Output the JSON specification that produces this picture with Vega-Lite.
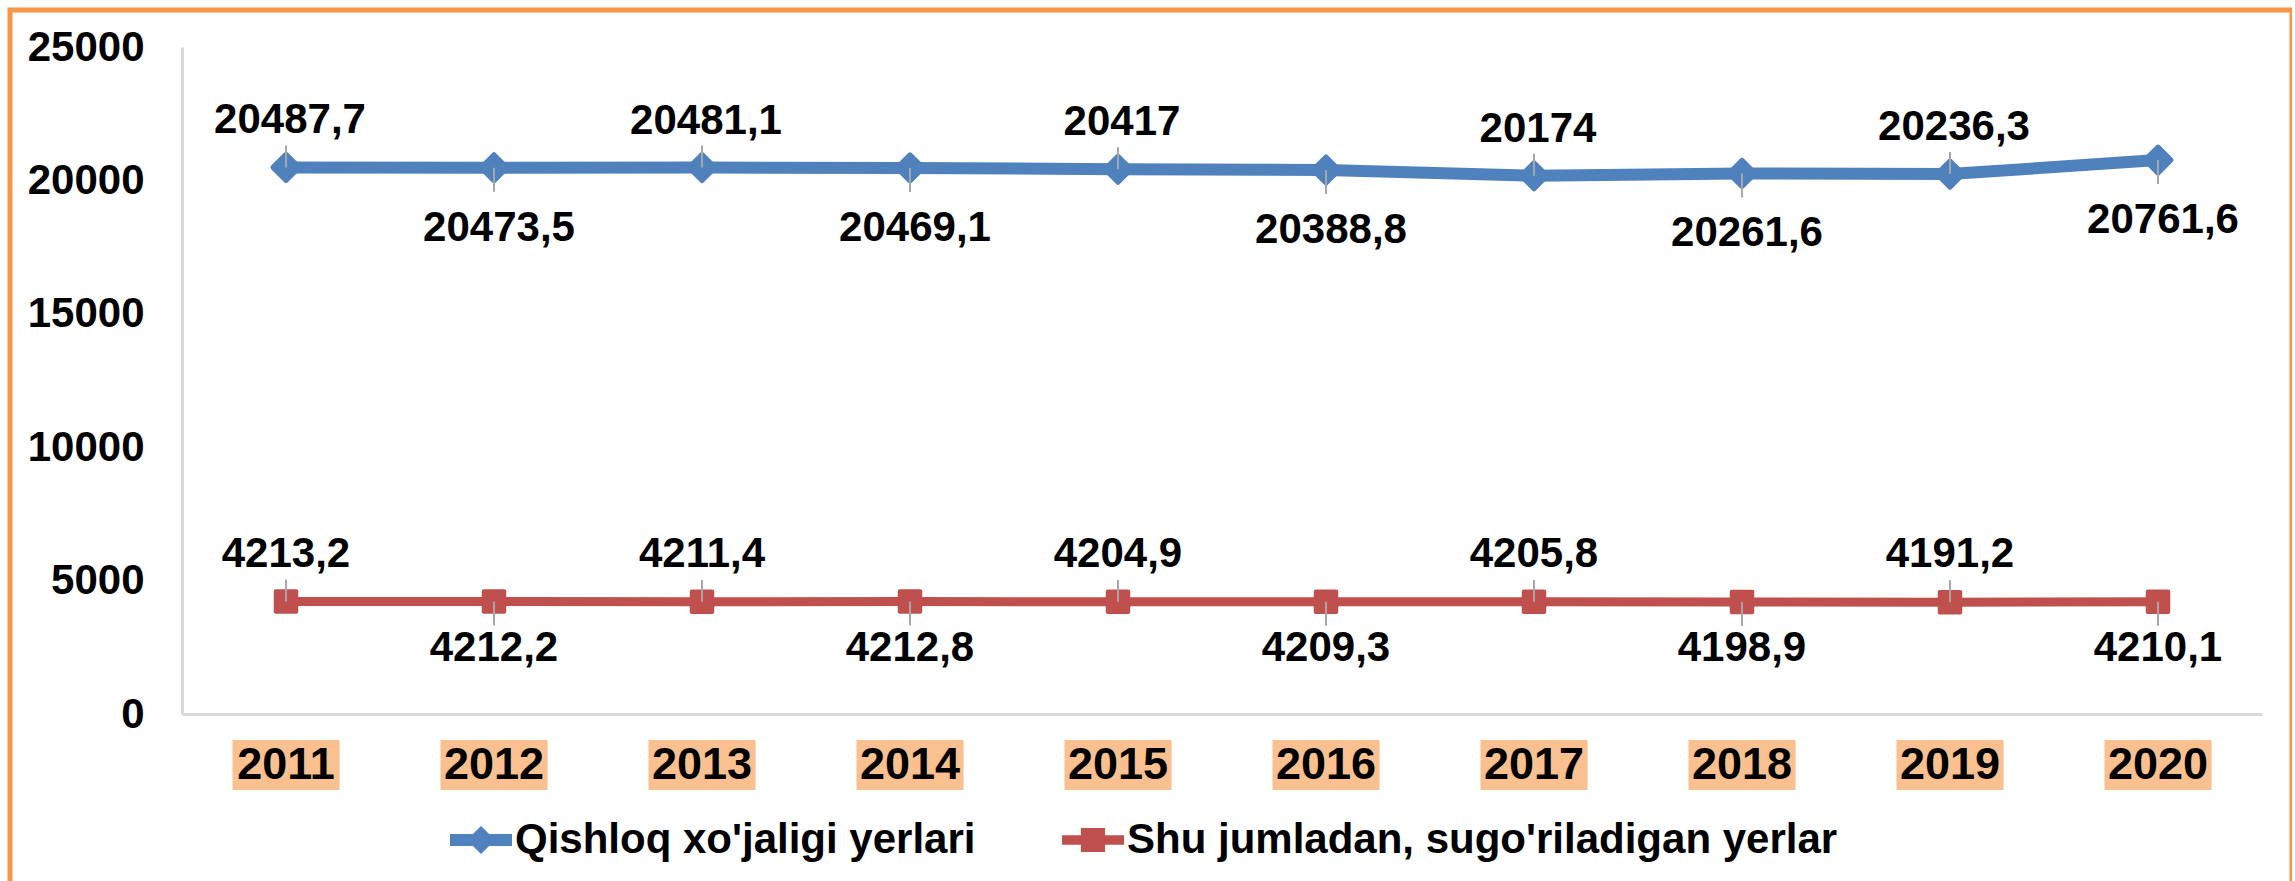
{
  "$schema": "https://vega.github.io/schema/vega-lite/v6.json",
  "width": 2282,
  "height": 880,
  "autosize": {"type": "none"},
  "padding": {"left": 10, "top": 10, "right": 0, "bottom": 0},
  "background": "white",
  "config": {
    "view": {"stroke": "#F79646", "strokeWidth": 5, "fill": "white"},
    "locale": {"number": {"decimal": ",", "thousands": " ", "grouping": [3], "currency": ["", ""]}},
    "font": "Liberation Sans",
    "legend": {
      "orient": "none",
      "direction": "horizontal",
      "legendX": 440,
      "legendY": 799,
      "title": null,
      "labelFont": "Liberation Sans",
      "labelFontSize": 42,
      "labelFontWeight": "bold",
      "labelColor": "#000000",
      "labelOffset": 3,
      "labelLimit": 0,
      "symbolSize": 3844,
      "symbolStrokeWidth": 0,
      "symbolOpacity": 1,
      "columnPadding": 86
    }
  },
  "data": {
    "values": [
      {"year": "2011", "series": "Qishloq xo'jaligi yerlari", "value": 20487.7},
      {"year": "2012", "series": "Qishloq xo'jaligi yerlari", "value": 20473.5},
      {"year": "2013", "series": "Qishloq xo'jaligi yerlari", "value": 20481.1},
      {"year": "2014", "series": "Qishloq xo'jaligi yerlari", "value": 20469.1},
      {"year": "2015", "series": "Qishloq xo'jaligi yerlari", "value": 20417},
      {"year": "2016", "series": "Qishloq xo'jaligi yerlari", "value": 20388.8},
      {"year": "2017", "series": "Qishloq xo'jaligi yerlari", "value": 20174},
      {"year": "2018", "series": "Qishloq xo'jaligi yerlari", "value": 20261.6},
      {"year": "2019", "series": "Qishloq xo'jaligi yerlari", "value": 20236.3},
      {"year": "2020", "series": "Qishloq xo'jaligi yerlari", "value": 20761.6},
      {"year": "2011", "series": "Shu jumladan, sugo'riladigan yerlar", "value": 4213.2},
      {"year": "2012", "series": "Shu jumladan, sugo'riladigan yerlar", "value": 4212.2},
      {"year": "2013", "series": "Shu jumladan, sugo'riladigan yerlar", "value": 4211.4},
      {"year": "2014", "series": "Shu jumladan, sugo'riladigan yerlar", "value": 4212.8},
      {"year": "2015", "series": "Shu jumladan, sugo'riladigan yerlar", "value": 4204.9},
      {"year": "2016", "series": "Shu jumladan, sugo'riladigan yerlar", "value": 4209.3},
      {"year": "2017", "series": "Shu jumladan, sugo'riladigan yerlar", "value": 4205.8},
      {"year": "2018", "series": "Shu jumladan, sugo'riladigan yerlar", "value": 4198.9},
      {"year": "2019", "series": "Shu jumladan, sugo'riladigan yerlar", "value": 4191.2},
      {"year": "2020", "series": "Shu jumladan, sugo'riladigan yerlar", "value": 4210.1}
    ]
  },
  "encoding": {
    "x": {
      "field": "year",
      "type": "ordinal",
      "scale": {"type": "band", "range": [172, 2252], "paddingInner": 0, "paddingOuter": 0},
      "axis": {"labels": false, "ticks": false, "title": null, "domainColor": "#D9D9D9", "domainWidth": 3, "offset": -176, "grid": false}
    },
    "y": {
      "field": "value",
      "type": "quantitative",
      "scale": {"domain": [0, 25000], "range": [704, 37], "nice": false, "zero": false},
      "axis": {
        "values": [0, 5000, 10000, 15000, 20000, 25000],
        "format": "d",
        "ticks": false,
        "grid": false,
        "title": null,
        "domainColor": "#D9D9D9",
        "domainWidth": 3,
        "offset": -172,
        "labelPadding": 38,
        "labelFont": "Liberation Sans",
        "labelFontSize": 42,
        "labelFontWeight": "bold",
        "labelColor": "#000000"
      }
    }
  },
  "layer": [
    {
      "transform": [{"filter": "datum.series === \"Qishloq xo'jaligi yerlari\""}],
      "mark": {"type": "rect", "width": 107, "color": "#FAC090"},
      "encoding": {
        "y": {"datum": -975},
        "y2": {"datum": -2849}
      }
    },
    {
      "transform": [{"filter": "datum.series === \"Qishloq xo'jaligi yerlari\""}],
      "mark": {"type": "text", "font": "Liberation Sans", "fontSize": 45, "fontWeight": "bold", "color": "#000000", "baseline": "middle", "align": "center"},
      "encoding": {
        "y": {"datum": -1911},
        "text": {"field": "year"}
      }
    },
    {
      "transform": [{"filter": "datum.series === \"Qishloq xo'jaligi yerlari\""}],
      "mark": {"type": "line", "color": "#4F81BD", "strokeWidth": 12, "strokeJoin": "round", "strokeCap": "round"},
      "encoding": {}
    },
    {
      "transform": [{"filter": "datum.series === \"Shu jumladan, sugo'riladigan yerlar\""}],
      "mark": {"type": "line", "color": "#C0504D", "strokeWidth": 9, "strokeJoin": "round", "strokeCap": "round"},
      "encoding": {}
    },
    {
      "transform": [{"filter": "datum.series === \"Qishloq xo'jaligi yerlari\""}],
      "mark": {"type": "point", "shape": "diamond", "filled": true, "size": 680, "color": "#4F81BD", "stroke": "#4F81BD", "strokeWidth": 5, "strokeJoin": "round", "opacity": 1}
    },
    {
      "transform": [{"filter": "datum.series === \"Shu jumladan, sugo'riladigan yerlar\""}],
      "mark": {"type": "point", "shape": "square", "filled": true, "size": 420, "color": "#C0504D", "stroke": "#C0504D", "strokeWidth": 4, "strokeJoin": "round", "opacity": 1}
    },
    {
      "transform": [{"filter": "toNumber(datum.year) % 2 === 1"}],
      "mark": {"type": "rule", "color": "#A6A6A6", "strokeWidth": 2, "y2Offset": -22},
      "encoding": {"y2": {"field": "value"}}
    },
    {
      "transform": [{"filter": "toNumber(datum.year) % 2 === 0"}],
      "mark": {"type": "rule", "color": "#A6A6A6", "strokeWidth": 2, "y2Offset": 24},
      "encoding": {"y2": {"field": "value"}}
    },
    {
      "transform": [{"filter": "datum.series === \"Qishloq xo'jaligi yerlari\" && toNumber(datum.year) % 2 === 1"}],
      "mark": {"type": "text", "font": "Liberation Sans", "fontSize": 42, "fontWeight": "bold", "color": "#000000", "baseline": "middle", "dy": -47, "dx": 4},
      "encoding": {"text": {"field": "value", "type": "quantitative", "format": ".1~f"}}
    },
    {
      "transform": [{"filter": "datum.series === \"Qishloq xo'jaligi yerlari\" && toNumber(datum.year) % 2 === 0"}],
      "mark": {"type": "text", "font": "Liberation Sans", "fontSize": 42, "fontWeight": "bold", "color": "#000000", "baseline": "middle", "dy": 60, "dx": 5},
      "encoding": {"text": {"field": "value", "type": "quantitative", "format": ".1~f"}}
    },
    {
      "transform": [{"filter": "datum.series === \"Shu jumladan, sugo'riladigan yerlar\" && toNumber(datum.year) % 2 === 1"}],
      "mark": {"type": "text", "font": "Liberation Sans", "fontSize": 42, "fontWeight": "bold", "color": "#000000", "baseline": "middle", "dy": -48},
      "encoding": {"text": {"field": "value", "type": "quantitative", "format": ".1~f"}}
    },
    {
      "transform": [{"filter": "datum.series === \"Shu jumladan, sugo'riladigan yerlar\" && toNumber(datum.year) % 2 === 0"}],
      "mark": {"type": "text", "font": "Liberation Sans", "fontSize": 42, "fontWeight": "bold", "color": "#000000", "baseline": "middle", "dy": 46},
      "encoding": {"text": {"field": "value", "type": "quantitative", "format": ".1~f"}}
    },
    {
      "mark": {"type": "point", "filled": true, "opacity": 0},
      "encoding": {
        "color": {
          "field": "series",
          "type": "nominal",
          "scale": {"domain": ["Qishloq xo'jaligi yerlari", "Shu jumladan, sugo'riladigan yerlar"], "range": ["#4F81BD", "#C0504D"]}
        },
        "shape": {
          "field": "series",
          "type": "nominal",
          "scale": {
            "domain": ["Qishloq xo'jaligi yerlari", "Shu jumladan, sugo'riladigan yerlar"],
            "range": [
              "M-1,-0.19L-0.26,-0.19L0,-0.45L0.26,-0.19L1,-0.19L1,0.19L0.26,0.19L0,0.45L-0.26,0.19L-1,0.19Z",
              "M-1,-0.15L-0.39,-0.15L-0.39,-0.39L0.39,-0.39L0.39,-0.15L1,-0.15L1,0.15L0.39,0.15L0.39,0.39L-0.39,0.39L-0.39,0.15L-1,0.15Z"
            ]
          }
        }
      }
    }
  ]
}
